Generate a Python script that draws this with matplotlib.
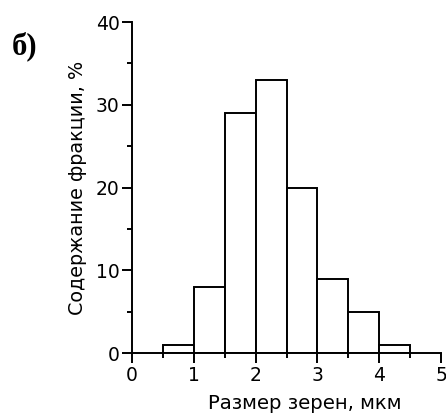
import matplotlib
matplotlib.use("Agg")
import matplotlib.pyplot as plt
from matplotlib.ticker import MultipleLocator

# grain size bins (um) and fraction content (%)
bin_left = [0.5, 1.0, 1.5, 2.0, 2.5, 3.0, 3.5, 4.0]
bin_width = 0.5
fraction = [1, 8, 29, 33, 20, 9, 5, 1]

x_label = "Размер зерен, мкм"
y_label = "Содержание фракции, %"
panel_label = "б)"

plt.rcParams["font.family"] = ["DejaVu Sans"]

fig = plt.figure(figsize=(4.46, 4.17), dpi=100)
ax = fig.add_axes([0.296, 0.153, 0.693, 0.794])

ax.bar(bin_left, fraction, width=bin_width, align="edge",
       facecolor="white", edgecolor="black", linewidth=1.4)

ax.set_xlim(0, 5)
ax.set_ylim(0, 40)
ax.xaxis.set_major_locator(MultipleLocator(1))
ax.xaxis.set_minor_locator(MultipleLocator(0.5))
ax.yaxis.set_major_locator(MultipleLocator(10))
ax.yaxis.set_minor_locator(MultipleLocator(5))

for side in ["top", "right"]:
    ax.spines[side].set_visible(False)
for side in ["left", "bottom"]:
    ax.spines[side].set_linewidth(1.4)

ax.tick_params(which="major", direction="out", length=7, width=1.4,
               labelsize=13.5, pad=2)
ax.tick_params(which="minor", direction="out", length=3.5, width=1.4)

ax.set_xlabel(x_label, fontsize=14.2)
ax.xaxis.set_label_coords(0.56, -0.123)
ax.set_ylabel(y_label, fontsize=13.8, labelpad=6)

fig.text(0.056, 0.888, panel_label, fontsize=22, fontweight="bold",
         family="Liberation Serif", ha="center", va="center")

fig.savefig("out.png", dpi=100)
